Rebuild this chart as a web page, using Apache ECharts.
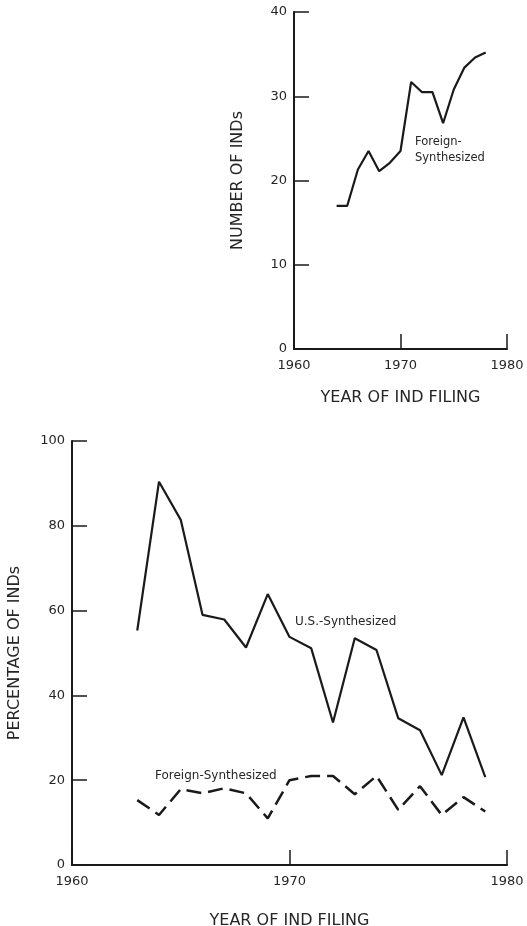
<!DOCTYPE html>
<html>
<head>
<meta charset="utf-8">
<script src="https://cdn.jsdelivr.net/npm/echarts@6/dist/echarts.min.js"></script>
<style>
html,body{margin:0;padding:0;background:#fff;}
#chart{width:527px;height:926px;}
</style>
</head>
<body>
<div id="chart"></div>
<script>
// Top chart: number of foreign-synthesized INDs
const topYears = [1964,1965,1966,1967,1968,1969,1970,1971,1972,1973,1974,1975,1976,1977,1978];
const topForeignCount = [17.0,17.0,21.3,23.5,21.1,22.1,23.5,31.7,30.5,30.5,26.8,30.8,33.4,34.6,35.2];

// Bottom chart: percentage of INDs
const bottomYears = [1963,1964,1965,1966,1967,1968,1969,1970,1971,1972,1973,1974,1975,1976,1977,1978,1979];
const usPct = [55.3,90.4,81.4,59.0,57.9,51.3,63.9,53.8,51.1,33.6,53.5,50.7,34.6,31.8,21.2,34.8,20.7];
const foreignPct = [15.3,11.8,17.9,16.9,18.1,16.9,11.0,20.0,21.0,21.0,16.7,21.0,13.0,18.6,11.8,16.0,12.6];

// Axis ticks
const xTicks = [1960,1970,1980];
const topYTicks = [0,10,20,30,40];
const bottomYTicks = [0,20,40,60,80,100];

const FONT = 'DejaVu Sans';
const INK = '#1a1a1a';
const TXT = '#262626';

function pairs(xs, ys){ return xs.map((x,i)=>[x, ys[i]]); }

function xAxisCfg(gridIndex, nameGap){
  return {
    type:'value', gridIndex,
    min: xTicks[0], max: xTicks[xTicks.length-1], interval: xTicks[1]-xTicks[0],
    name:'YEAR OF IND FILING', nameLocation:'middle', nameGap,
    nameTextStyle:{fontFamily:FONT, fontSize:16, color:TXT},
    axisLine:{show:true, lineStyle:{color:INK, width:2}},
    axisTick:{show:true, inside:true, length:15, lineStyle:{color:INK, width:1.5}},
    axisLabel:{fontFamily:FONT, fontSize:13, color:TXT, margin:10, showMinLabel:true, showMaxLabel:true,
               formatter:(v)=>String(v)},
    splitLine:{show:false}
  };
}
function yAxisCfg(gridIndex, ticks, name, nameGap){
  return {
    type:'value', gridIndex,
    min: ticks[0], max: ticks[ticks.length-1], interval: ticks[1]-ticks[0],
    name, nameLocation:'middle', nameGap, nameRotate:90,
    nameTextStyle:{fontFamily:FONT, fontSize:16, color:TXT},
    axisLine:{show:true, lineStyle:{color:INK, width:2}},
    axisTick:{show:true, inside:true, length:15, lineStyle:{color:INK, width:1.5}},
    axisLabel:{fontFamily:FONT, fontSize:13, color:TXT, margin:7, formatter:(v)=>String(v)},
    splitLine:{show:false}
  };
}

const chart = echarts.init(document.getElementById('chart'), null, {renderer:'canvas'});
chart.setOption({
  backgroundColor:'#fff',
  animation:false,
  grid:[
    {left:294, right:20, top:12, bottom:577, containLabel:false, outerBoundsMode:'none'},
    {left:72, right:20, top:441, bottom:61, containLabel:false, outerBoundsMode:'none'}
  ],
  xAxis:[ xAxisCfg(0, 41), xAxisCfg(1, 48) ],
  yAxis:[
    yAxisCfg(0, topYTicks, 'NUMBER OF INDs', 48),
    yAxisCfg(1, bottomYTicks, 'PERCENTAGE OF INDs', 49)
  ],
  series:[
    {type:'line', xAxisIndex:0, yAxisIndex:0, data:pairs(topYears, topForeignCount),
     showSymbol:false, symbol:'none', lineStyle:{color:INK, width:2.2}},
    {type:'line', xAxisIndex:1, yAxisIndex:1, data:pairs(bottomYears, usPct),
     showSymbol:false, symbol:'none', lineStyle:{color:INK, width:2.2}},
    {type:'line', xAxisIndex:1, yAxisIndex:1, data:pairs(bottomYears, foreignPct),
     showSymbol:false, symbol:'none', lineStyle:{color:INK, width:2.5, type:[15,7]}}
  ],
  graphic:[
    {type:'text', left:415, top:134, style:{text:'Foreign-\nSynthesized', fontFamily:FONT, fontSize:11.5, lineHeight:16, fill:TXT}},
    {type:'text', left:295, top:616, style:{text:'U.S.-Synthesized', fontFamily:FONT, fontSize:12, fill:TXT}},
    {type:'text', left:155, top:770, style:{text:'Foreign-Synthesized', fontFamily:FONT, fontSize:12, fill:TXT}}
  ]
});
</script>
</body>
</html>
